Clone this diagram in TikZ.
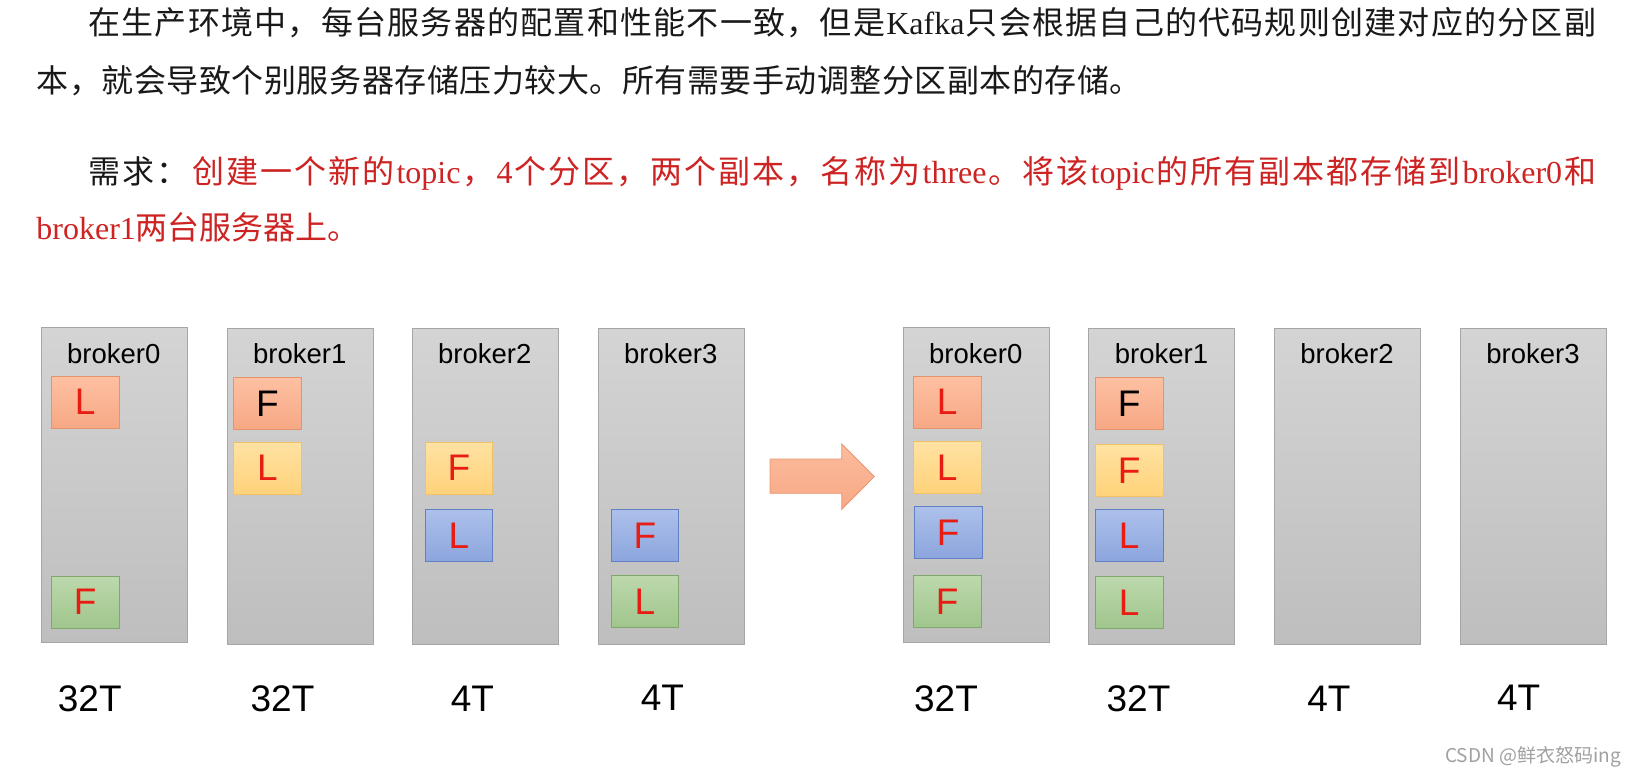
\documentclass[tikz,border=0pt]{standalone}
\usepackage{fontspec}
\setmainfont{Liberation Serif}
\newfontfamily\cjk{Noto Sans CJK SC}
\newfontfamily\tms{Liberation Serif}
\newfontfamily\arial{Liberation Sans}
\definecolor{ktxt}{RGB}{25,25,25}
\definecolor{kred}{RGB}{205,35,35}
\definecolor{lred}{RGB}{232,28,18}
\definecolor{bgtop}{RGB}{212,212,212}
\definecolor{bgbot}{RGB}{190,190,190}
\definecolor{bgbd}{RGB}{166,166,166}
\definecolor{otop}{RGB}{253,192,162}
\definecolor{obot}{RGB}{247,168,132}
\definecolor{obd}{RGB}{228,148,108}
\definecolor{ytop}{RGB}{255,226,162}
\definecolor{ybot}{RGB}{255,210,122}
\definecolor{ybd}{RGB}{240,194,100}
\definecolor{btop}{RGB}{172,192,234}
\definecolor{bbot}{RGB}{140,165,221}
\definecolor{bbd}{RGB}{98,128,196}
\definecolor{gtop}{RGB}{188,216,172}
\definecolor{gbot}{RGB}{160,198,140}
\definecolor{gbd}{RGB}{128,168,108}
\definecolor{atop}{RGB}{251,188,158}
\definecolor{abot}{RGB}{248,168,132}
\definecolor{abd}{RGB}{234,150,112}
\definecolor{wmgray}{RGB}{160,160,160}
\ExplSyntaxOn
\NewDocumentCommand\spreadline{m m}{\hbox_to_wd:nn{#1}{\tl_map_inline:nn{#2}{##1\hfil}\unskip}}
\ExplSyntaxOff
\begin{document}
\begin{tikzpicture}[x=1pt,y=-1pt,
  txt/.style={anchor=base west, inner sep=0pt, font=\cjk\fontsize{32}{32}\selectfont, text=ktxt},
  brk/.style={draw=bgbd, line width=0.8pt, top color=bgtop, bottom color=bgbot, minimum width=146pt, minimum height=315.5pt, anchor=north west, inner sep=0pt},
  blbl/.style={anchor=base, inner sep=0pt, font=\arial\fontsize{27.5}{27.5}\selectfont, text=black},
  part/.style={line width=0.8pt, minimum width=67.5pt, minimum height=52pt, anchor=north west, inner sep=0pt, font=\arial\fontsize{37}{37}\selectfont, text=lred},
  po/.style={part, draw=obd, top color=otop, bottom color=obot},
  py/.style={part, draw=ybd, top color=ytop, bottom color=ybot},
  pb/.style={part, draw=bbd, top color=btop, bottom color=bbot},
  pg/.style={part, draw=gbd, top color=gtop, bottom color=gbot},
  capl/.style={anchor=base, inner sep=0pt, font=\arial\fontsize{37}{37}\selectfont, text=black}]
\useasboundingbox (0,0) rectangle (1636,778);
\fill[white] (0,0) rectangle (1636,778);

% paragraph text
\node[txt] (t1) at (88.3,34.5) {\spreadline{1507.7pt}{在生产环境中，每台服务器的配置和性能不一致，但是{{\tms Kafka}}只会根据自己的代码规则创建对应的分区副}};
\node[txt] (t2) at (36.7,93) {\spreadline{1105pt}{本，就会导致个别服务器存储压力较大。所有需要手动调整分区副本的存储。}};
\node[txt] (t3) at (88.3,184) {\spreadline{1507.7pt}{需求：{\color{kred}}创建一个新的{{\tms topic}}，{{\tms 4}}个分区，两个副本，名称为{{\tms three}}。将该{{\tms topic}}的所有副本都存储到{{\tms broker0}}和}};
\node[txt, text=kred] (t4) at (36.2,239.3) {{\tms broker1}两台服务器上。};

% left brokers
\node[brk] (lb0) at (40.7,326.7) {};
\node[brk] (lb1) at (226.7,328.3) {};
\node[brk] (lb2) at (411.7,328.3) {};
\node[brk] (lb3) at (597.7,328.3) {};
% right brokers
\node[brk] (rb0) at (902.7,326.7) {};
\node[brk] (rb1) at (1088,328.3) {};
\node[brk] (rb2) at (1274,328.3) {};
\node[brk] (rb3) at (1460,328.3) {};

% broker labels
\node[blbl] (lb0t) at (113.7,363) {broker0};
\node[blbl] (lb1t) at (299.7,363) {broker1};
\node[blbl] (lb2t) at (484.7,363) {broker2};
\node[blbl] (lb3t) at (670.7,363) {broker3};
\node[blbl] (rb0t) at (975.8,363) {broker0};
\node[blbl] (rb1t) at (1161.5,363) {broker1};
\node[blbl] (rb2t) at (1347,363) {broker2};
\node[blbl] (rb3t) at (1533,363) {broker3};

% partitions, before
\node[po] (lb0a) at (51,375.7) {L};
\node[pg] (lb0b) at (51,575.7) {F};
\node[po, text=black] (lb1a) at (233.3,377.3) {F};
\node[py] (lb1b) at (233.3,441.7) {L};
\node[py] (lb2a) at (424.7,441.7) {F};
\node[pb] (lb2b) at (424.7,509) {L};
\node[pb] (lb3a) at (610.7,509) {F};
\node[pg] (lb3b) at (610.7,575) {L};
% partitions, after
\node[po] (rb0a) at (913,375.7) {L};
\node[py] (rb0b) at (913,441) {L};
\node[pb] (rb0c) at (914,506.3) {F};
\node[pg] (rb0d) at (913,575.3) {F};
\node[po, text=black] (rb1a) at (1095,377.3) {F};
\node[py] (rb1b) at (1095,444) {F};
\node[pb] (rb1c) at (1095,509) {L};
\node[pg] (rb1d) at (1095,576.3) {L};

% block arrow
\path[draw=abd, line width=0.8pt, top color=atop, bottom color=abot]
  (770,459) -- (841.7,459) -- (841.7,444) -- (874.3,476.6) -- (841.7,509.3) -- (841.7,493.3) -- (770,493.3) -- cycle;

% capacities
\node[capl] (c0) at (89.8,711.7) {32T};
\node[capl] (c1) at (282.5,711.7) {32T};
\node[capl] (c2) at (472.5,711.7) {4T};
\node[capl] (c3) at (662.5,710) {4T};
\node[capl] (c4) at (946,711.7) {32T};
\node[capl] (c5) at (1138.5,711.7) {32T};
\node[capl] (c6) at (1329,711.7) {4T};
\node[capl] (c7) at (1518.7,710) {4T};

% watermark
\node[anchor=base west, inner sep=0pt, text=wmgray, font=\cjk\fontsize{19}{19}\selectfont] (wm) at (1445,762.5) {CSDN @鲜衣怒码ing};
\end{tikzpicture}
\end{document}
